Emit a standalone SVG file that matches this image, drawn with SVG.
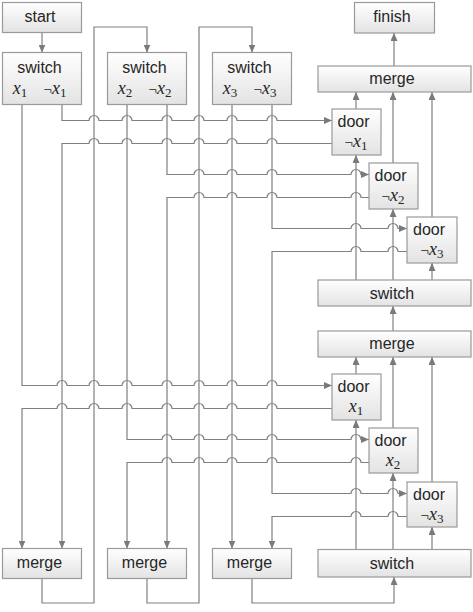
<svg xmlns="http://www.w3.org/2000/svg" width="473" height="612" viewBox="0 0 473 612">
<defs>
<linearGradient id="g" x1="0" y1="0" x2="0" y2="1">
<stop offset="0" stop-color="#ffffff"/>
<stop offset="1" stop-color="#e3e3e3"/>
</linearGradient>
<marker id="a" markerUnits="userSpaceOnUse" markerWidth="8" markerHeight="7" refX="8" refY="3.5" orient="auto">
<path d="M0,0 L8,3.5 L0,7 z" fill="#7a7a7a"/>
</marker>
<style>
.b{fill:url(#g);stroke:#9a9a9a;stroke-width:1.2}
.t{font-family:"Liberation Sans",Arial,sans-serif;font-size:16px;fill:#262626;text-anchor:middle}
.m{font-family:"Liberation Serif","Times New Roman",serif;font-size:18px;font-style:italic;fill:#262626;text-anchor:middle}
.s{font-size:13px;font-style:normal}
.n{font-style:normal;font-size:15px}
.c{fill:none;stroke:#808080;stroke-width:1.2}
.c.e{marker-end:url(#a)}
</style>
</defs>
<rect width="473" height="612" fill="#ffffff"/>
<g id="connectors">
<path class="c e" d="M42,32.5 V52.5"/>
<path class="c e" d="M42,578.5 V603 H94 V27 H147 V52.5"/>
<path class="c e" d="M147,578.5 V603 H199 V27 H252 V52.5"/>
<path class="c e" d="M252,578.5 V603 H394 V577"/>
<path class="c e" d="M62,104.5 V120.5 H89 A5,5 0 0 1 99,120.5 H122 A5,5 0 0 1 132,120.5 H162 A5,5 0 0 1 172,120.5 H194 A5,5 0 0 1 204,120.5 H227 A5,5 0 0 1 237,120.5 H267 A5,5 0 0 1 277,120.5 H332"/>
<path class="c e" d="M332,143.5 H277 A5,5 0 0 0 267,143.5 H237 A5,5 0 0 0 227,143.5 H204 A5,5 0 0 0 194,143.5 H172 A5,5 0 0 0 162,143.5 H132 A5,5 0 0 0 122,143.5 H99 A5,5 0 0 0 89,143.5 H62 V548.5"/>
<path class="c e" d="M167,104.5 V174.5 H194 A5,5 0 0 1 204,174.5 H227 A5,5 0 0 1 237,174.5 H267 A5,5 0 0 1 277,174.5 H351 A5,5 0 0 1 361,174.5 H369"/>
<path class="c e" d="M369,197.5 H361 A5,5 0 0 0 351,197.5 H277 A5,5 0 0 0 267,197.5 H237 A5,5 0 0 0 227,197.5 H204 A5,5 0 0 0 194,197.5 H167 V548.5"/>
<path class="c e" d="M272,104.5 V228.5 H351 A5,5 0 0 1 361,228.5 H388 A5,5 0 0 1 398,228.5 H407"/>
<path class="c e" d="M407,251.5 H398 A5,5 0 0 0 388,251.5 H361 A5,5 0 0 0 351,251.5 H272 V493.5 H351 A5,5 0 0 1 361,493.5 H388 A5,5 0 0 1 398,493.5 H407"/>
<path class="c e" d="M407,516.5 H398 A5,5 0 0 0 388,516.5 H361 A5,5 0 0 0 351,516.5 H272 V548.5"/>
<path class="c e" d="M22,104.5 V385.5 H57 A5,5 0 0 1 67,385.5 H89 A5,5 0 0 1 99,385.5 H122 A5,5 0 0 1 132,385.5 H162 A5,5 0 0 1 172,385.5 H194 A5,5 0 0 1 204,385.5 H227 A5,5 0 0 1 237,385.5 H267 A5,5 0 0 1 277,385.5 H332"/>
<path class="c e" d="M332,408.5 H277 A5,5 0 0 0 267,408.5 H237 A5,5 0 0 0 227,408.5 H204 A5,5 0 0 0 194,408.5 H172 A5,5 0 0 0 162,408.5 H132 A5,5 0 0 0 122,408.5 H99 A5,5 0 0 0 89,408.5 H67 A5,5 0 0 0 57,408.5 H22 V548.5"/>
<path class="c e" d="M127,104.5 V439.5 H162 A5,5 0 0 1 172,439.5 H194 A5,5 0 0 1 204,439.5 H227 A5,5 0 0 1 237,439.5 H267 A5,5 0 0 1 277,439.5 H351 A5,5 0 0 1 361,439.5 H369"/>
<path class="c e" d="M369,462.5 H361 A5,5 0 0 0 351,462.5 H277 A5,5 0 0 0 267,462.5 H237 A5,5 0 0 0 227,462.5 H204 A5,5 0 0 0 194,462.5 H172 A5,5 0 0 0 162,462.5 H127 V548.5"/>
<path class="c e" d="M232,104.5 V548.5"/>
<path class="c e" d="M356,280 V155"/>
<path class="c e" d="M393,280 V209"/>
<path class="c e" d="M432,280 V263"/>
<path class="c e" d="M356,109 V92"/>
<path class="c e" d="M393,163 V92"/>
<path class="c e" d="M432,217 V92"/>
<path class="c e" d="M394,66 V33"/>
<path class="c e" d="M393,331 V306"/>
<path class="c e" d="M356,374 V357"/>
<path class="c e" d="M393,428 V357"/>
<path class="c e" d="M432,482 V357"/>
<path class="c e" d="M356,549.5 V420"/>
<path class="c e" d="M393,549.5 V473"/>
<path class="c e" d="M432,549.5 V527"/>
</g>
<g id="start"><rect class="b" x="2.5" y="2.5" width="79" height="30"/><text class="t" x="40" y="22">start</text></g>
<g id="finish"><rect class="b" x="354.5" y="2.5" width="80" height="30.5"/><text class="t" x="392" y="22">finish</text></g>
<g id="switch1"><rect class="b" x="2.5" y="52.5" width="79" height="52"/><text class="t" x="39.5" y="73">switch</text>
<text class="m" x="20" y="94">x<tspan class="s" dy="3">1</tspan></text>
<text class="m" x="55" y="94"><tspan class="n">¬</tspan>x<tspan class="s" dy="3">1</tspan></text></g>
<g id="switch2"><rect class="b" x="107.5" y="52.5" width="79" height="52"/><text class="t" x="144.5" y="73">switch</text>
<text class="m" x="125" y="94">x<tspan class="s" dy="3">2</tspan></text>
<text class="m" x="160" y="94"><tspan class="n">¬</tspan>x<tspan class="s" dy="3">2</tspan></text></g>
<g id="switch3"><rect class="b" x="212.5" y="52.5" width="79" height="52"/><text class="t" x="249.5" y="73">switch</text>
<text class="m" x="230" y="94">x<tspan class="s" dy="3">3</tspan></text>
<text class="m" x="265" y="94"><tspan class="n">¬</tspan>x<tspan class="s" dy="3">3</tspan></text></g>
<g id="merge-top"><rect class="b" x="318" y="66" width="153" height="26"/><text class="t" x="392" y="83.5">merge</text></g>
<g id="door-n1"><rect class="b" x="332" y="109" width="49" height="46"/><text class="t" x="353.5" y="127">door</text>
<text class="m" x="356" y="147"><tspan class="n">¬</tspan>x<tspan class="s" dy="3">1</tspan></text></g>
<g id="door-n2"><rect class="b" x="369" y="163" width="49" height="46"/><text class="t" x="390.5" y="181">door</text>
<text class="m" x="393" y="201"><tspan class="n">¬</tspan>x<tspan class="s" dy="3">2</tspan></text></g>
<g id="door-n3"><rect class="b" x="407" y="217" width="50" height="46"/><text class="t" x="429" y="235">door</text>
<text class="m" x="432" y="255"><tspan class="n">¬</tspan>x<tspan class="s" dy="3">3</tspan></text></g>
<g id="switch-mid"><rect class="b" x="318" y="280" width="153" height="26"/><text class="t" x="392" y="298.5">switch</text></g>
<g id="merge-mid"><rect class="b" x="318" y="331" width="153" height="26"/><text class="t" x="392" y="348.5">merge</text></g>
<g id="door-p1"><rect class="b" x="332" y="374" width="49" height="46"/><text class="t" x="353.5" y="392">door</text>
<text class="m" x="356" y="412">x<tspan class="s" dy="3">1</tspan></text></g>
<g id="door-p2"><rect class="b" x="369" y="428" width="49" height="45"/><text class="t" x="390.5" y="446">door</text>
<text class="m" x="393" y="466">x<tspan class="s" dy="3">2</tspan></text></g>
<g id="door-n3b"><rect class="b" x="407" y="482" width="50" height="45"/><text class="t" x="429" y="500">door</text>
<text class="m" x="432" y="520"><tspan class="n">¬</tspan>x<tspan class="s" dy="3">3</tspan></text></g>
<g id="switch-bottom"><rect class="b" x="318" y="549.5" width="153" height="27.5"/><text class="t" x="392" y="568.5">switch</text></g>
<g id="merge1"><rect class="b" x="2.5" y="548.5" width="79" height="30"/><text class="t" x="39.5" y="568">merge</text></g>
<g id="merge2"><rect class="b" x="107.5" y="548.5" width="79" height="30"/><text class="t" x="144.5" y="568">merge</text></g>
<g id="merge3"><rect class="b" x="212.5" y="548.5" width="79" height="30"/><text class="t" x="249.5" y="568">merge</text></g>
</svg>
